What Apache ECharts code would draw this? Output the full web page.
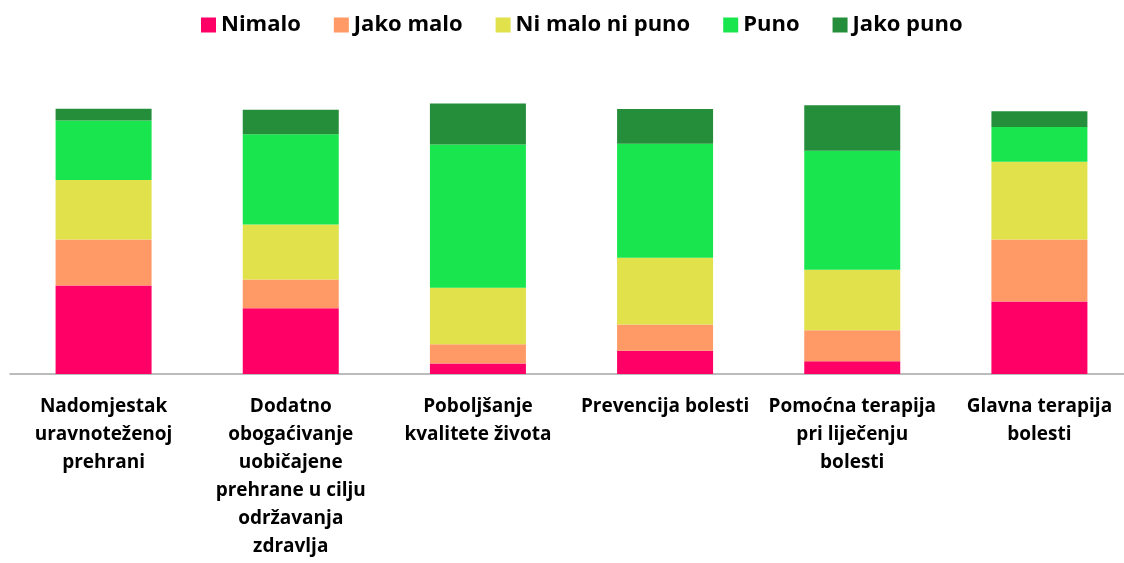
<!DOCTYPE html>
<html>
<head>
<meta charset="utf-8">
<script src="https://cdn.jsdelivr.net/npm/echarts@6/dist/echarts.min.js"></script>
<style>
  html, body { margin: 0; padding: 0; background: #fff; }
  #chart { width: 1124px; height: 563px; }
</style>
</head>
<body>
<div id="chart"></div>
<script>
  // categories (line breaks as in the original)
  const categories = [
    'Nadomjestak\nuravnoteženoj\nprehrani',
    'Dodatno\nobogaćivanje\nuobičajene\nprehrane u cilju\nodržavanja\nzdravlja',
    'Poboljšanje\nkvalitete života',
    'Prevencija bolesti',
    'Pomoćna terapija\npri liječenju\nbolesti',
    'Glavna terapija\nbolesti'
  ];

  const seriesNames = ['Nimalo', 'Jako malo', 'Ni malo ni puno', 'Puno', 'Jako puno'];

  // values (share, %)
  const nimalo      = [33.4, 24.8,  4.0,  8.8,  4.8, 27.4];
  const jakoMalo    = [17.4, 10.9,  7.2,  9.9, 11.7, 23.4];
  const niMaloNi    = [22.5, 20.8, 21.4, 25.2, 22.9, 29.4];
  const puno        = [22.4, 34.1, 54.1, 43.1, 44.9, 13.1];
  const jakoPuno    = [ 4.5,  9.2, 15.5, 13.1, 17.2,  5.9];

  const COLORS = ['#ff0066', '#ff9966', '#e0e14b', '#19e64f', '#258e3a'];
  const FONT = '"Open Sans", "Noto Sans", sans-serif';

  const values = [nimalo, jakoMalo, niMaloNi, puno, jakoPuno];

  const chart = echarts.init(document.getElementById('chart'));

  const option = {
    backgroundColor: '#ffffff',
    animation: false,
    color: COLORS,
    legend: {
      top: 9,
      left: 196,
      itemWidth: 15,
      itemHeight: 15,
      itemGap: 33,
      icon: 'rect',
      textStyle: {
        color: '#000',
        fontFamily: FONT,
        fontWeight: 'bold',
        fontSize: 22,
        padding: [0, 0, 0, 0],
      },
      data: seriesNames,
    },
    grid: {
      left: 10,
      width: 1123,
      top: 96,
      bottom: 189,
      outerBoundsMode: 'none',
    },
    xAxis: {
      type: 'category',
      data: categories,
      axisLine: {
        lineStyle: { color: '#a6a6a6', width: 1.5 },
      },
      axisTick: { show: false },
      axisLabel: {
        interval: 0,
        margin: 19,
        color: '#000',
        fontFamily: FONT,
        fontWeight: 'bold',
        fontSize: 19,
        lineHeight: 28,
      },
    },
    yAxis: {
      type: 'value',
      min: 0,
      max: 105,
      show: false,
      splitLine: { show: false },
    },
    series: seriesNames.map((name, i) => ({
      name: name,
      type: 'bar',
      stack: 'total',
      barWidth: 96,
      data: values[i],
      itemStyle: { color: COLORS[i] },
    })),
  };

  chart.setOption(option);
</script>
</body>
</html>
